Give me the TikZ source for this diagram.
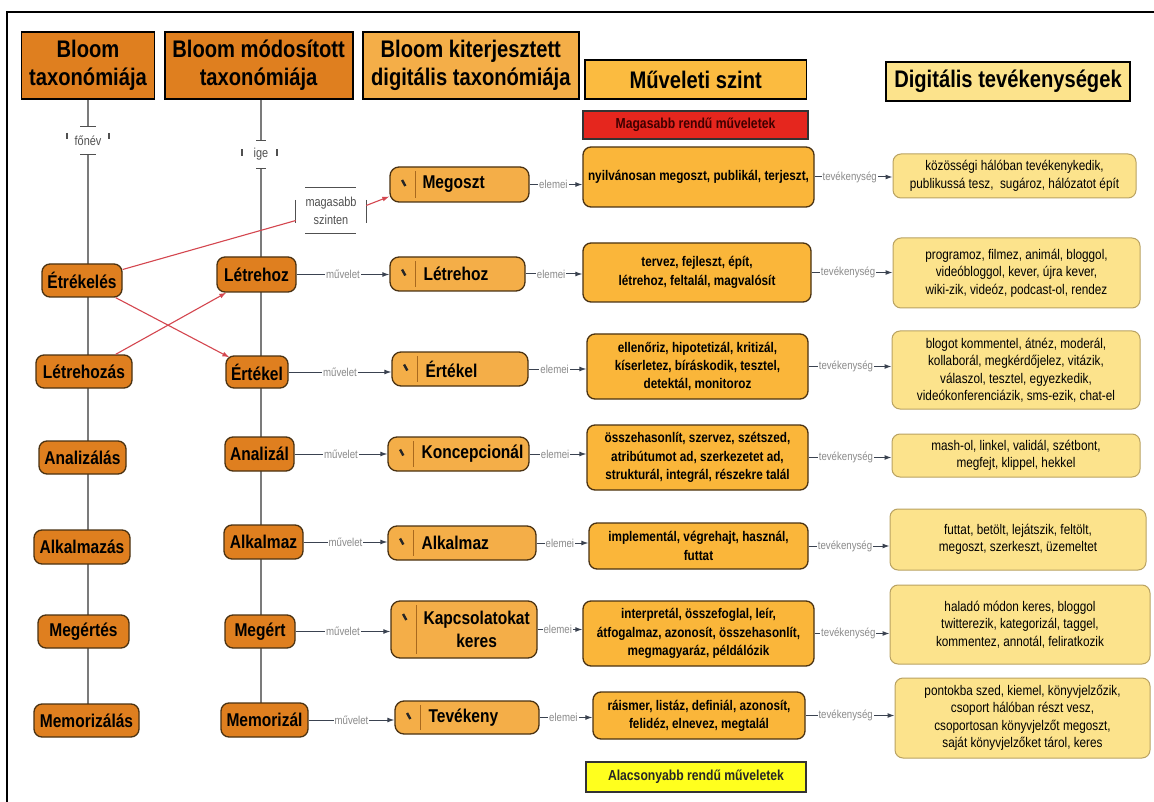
\documentclass[tikz,border=0pt]{standalone}
\usepackage{fontspec}
\setmainfont{Liberation Sans}[FakeStretch=0.84]
\usetikzlibrary{arrows.meta,backgrounds}
\definecolor{dor}{HTML}{DF7F1F}
\definecolor{lor}{HTML}{F4AE48}
\definecolor{gold}{HTML}{FAB63A}
\definecolor{hgold}{HTML}{FBBB40}
\definecolor{pale}{HTML}{FCE38C}
\definecolor{brd}{HTML}{4A3212}
\definecolor{pbrd}{HTML}{B9A262}
\definecolor{redbox}{HTML}{E5261E}
\definecolor{ybox}{HTML}{FFFF1E}
\definecolor{redl}{HTML}{D4464F}
\definecolor{lineg}{HTML}{7B7B7B}
\definecolor{arr}{HTML}{3A4250}
\definecolor{lbl}{HTML}{8A8A8A}
\definecolor{dlbl}{HTML}{505050}
\definecolor{kdivc}{HTML}{A8691E}
\tikzset{
  hdr/.style={draw=black, line width=1.8pt, align=center, inner sep=0pt,
    font=\fontsize{24}{28}\selectfont\bfseries},
  onode/.style={draw=brd, fill=dor, line width=1.3pt, rounded corners=8pt,
    inner sep=0pt, font=\fontsize{18.5}{20}\selectfont\bfseries},
  kbox/.style={draw=brd, fill=lor, line width=1.3pt, rounded corners=9pt, inner sep=0pt},
  ktext/.style={align=center, inner sep=0pt, anchor=west,
    font=\fontsize{18.5}{23}\selectfont\bfseries},
  kicon/.style={line width=2.4pt, draw=black!85},
  kdiv/.style={line width=1pt, draw=kdivc},
  opbox/.style={draw=brd, fill=gold, line width=1.3pt, rounded corners=8pt, inner sep=0pt,
    align=center, font=\fontsize{14}{18.3}\selectfont\bfseries},
  dbox/.style={draw=pbrd, fill=pale, line width=1pt, rounded corners=8pt, inner sep=0pt,
    align=center, font=\fontsize{14}{17.5}\selectfont},
  conn/.style={draw=arr, line width=1pt, -{Latex[length=7pt,width=5pt]}},
  elab/.style={fill=white, inner sep=1pt, text=lbl, font=\fontsize{11.5}{12}\selectfont},
  redarr/.style={draw=redl, line width=1.1pt, -{Latex[length=7pt,width=5pt]}},
  redln/.style={draw=redl, line width=1.1pt},
  colline/.style={draw=lineg, line width=1.2pt},
  tlab/.style={fill=white, inner sep=0pt, text=dlbl, align=center,
    font=\fontsize{13}{18}\selectfont},
  tick/.style={draw=dlbl, line width=1.1pt},
}
\newcommand\kdeco[3]{%
  \draw[kicon] ([xshift=12.7pt,yshift=#2]#1.west) -- ([xshift=16pt,yshift=#3]#1.west);
  \draw[kdiv] ([xshift=26pt,yshift=-5pt]#1.north west) -- ([xshift=26pt,yshift=5pt]#1.south west);}
\begin{document}
\begin{tikzpicture}[x=1pt,y=-1pt]
\useasboundingbox (0,0) rectangle (1154,802);

% headers
\node[hdr, fill=dor, minimum width=133pt, minimum height=67pt] (h1) at (88,65.5) {Bloom\\taxonómiája};
\node[hdr, fill=dor, minimum width=188pt, minimum height=67pt] (h2) at (258.6,65.5) {Bloom módosított\\taxonómiája};
\node[hdr, fill=lor, minimum width=216pt, minimum height=67pt] (h3) at (470.8,65.5) {Bloom kiterjesztett\\digitális taxonómiája};
\node[hdr, fill=hgold, minimum width=221.5pt, minimum height=39pt] (h4) at (695.7,79.5) {Műveleti szint};
\node[hdr, fill=pale, minimum width=244.5pt, minimum height=39pt] (h5) at (1008,81.5) {Digitális tevékenységek};

\node[draw=black!80, line width=1.6pt, fill=redbox, minimum width=225pt, minimum height=28pt, inner sep=0pt,
  text=black!75!red, font=\fontsize{14.5}{16}\selectfont\bfseries] (hi) at (695.5,125) {Magasabb rendű műveletek};
\node[draw=black!80, line width=1.6pt, fill=ybox, minimum width=220pt, minimum height=30pt, inner sep=0pt,
  text=black!85, font=\fontsize{14.5}{16}\selectfont\bfseries] (lo) at (696,777) {Alacsonyabb rendű műveletek};

% column 1
\node[onode, minimum width=80pt, minimum height=33pt] (e1) at (82,280.5) {Étrékelés};
\node[onode, minimum width=96pt, minimum height=33pt] (l1) at (84,371.5) {Létrehozás};
\node[onode, minimum width=87pt, minimum height=33pt] (a1) at (82.5,457.5) {Analizálás};
\node[onode, minimum width=96pt, minimum height=34pt] (al1) at (82,547) {Alkalmazás};
\node[onode, minimum width=91pt, minimum height=33pt] (mg1) at (83.5,631.5) {Megértés};
\node[onode, minimum width=105pt, minimum height=33pt] (mm1) at (86.5,720.5) {Memorizálás};

% column 2
\node[onode, minimum width=79pt, minimum height=35pt] (l2) at (256.5,274.5) {Létrehoz};
\node[onode, minimum width=62pt, minimum height=32pt] (v2) at (257,372) {Értékel};
\node[onode, minimum width=69pt, minimum height=34pt] (a2) at (259.5,454) {Analizál};
\node[onode, minimum width=79pt, minimum height=34pt] (al2) at (263.5,542) {Alkalmaz};
\node[onode, minimum width=70pt, minimum height=33pt] (mg2) at (260,631.5) {Megért};
\node[onode, minimum width=87pt, minimum height=34pt] (mm2) at (264.5,720) {Memorizál};

% labels on the column lines
\node[tlab, minimum width=30pt, minimum height=27pt] (fn) at (88,140.5) {főnév};
\node[tlab, minimum width=20pt, minimum height=27pt] (ig) at (261,154.5) {ige};
\node[tlab, minimum width=70pt, minimum height=45pt] (ms) at (331,210.5) {magasabb\\szinten};

\begin{scope}[on background layer]
  \fill[white] (0,0) rectangle (1154,802);
  \draw[colline] (h1.south) -- (h1.south |- mm1.center);
  \draw[colline] ([xshift=2.4pt]h2.south) -- ([xshift=2.4pt]h2.south |- mm2.center);
\end{scope}
\draw[line width=1.5pt] (7,802) -- (7,12) -- (1154,12);
\draw[tick] ([xshift=-8pt]fn.north) -- ([xshift=8pt]fn.north);
\draw[tick] ([xshift=-8pt]fn.south) -- ([xshift=8pt]fn.south);
\draw[tick] ([xshift=-21pt,yshift=7.5pt]fn.center) -- ([xshift=-21pt,yshift=1pt]fn.center);
\draw[tick] ([xshift=21pt,yshift=7.5pt]fn.center) -- ([xshift=21pt,yshift=1pt]fn.center);
\draw[tick] ([xshift=-5pt]ig.north) -- ([xshift=5pt]ig.north);
\draw[tick] ([xshift=-5pt]ig.south) -- ([xshift=5pt]ig.south);
\draw[tick] ([xshift=-19pt,yshift=5pt]ig.center) -- ([xshift=-19pt,yshift=-1.5pt]ig.center);
\draw[tick] ([xshift=16pt,yshift=5pt]ig.center) -- ([xshift=16pt,yshift=-1.5pt]ig.center);
\draw[tick] ([xshift=-26pt]ms.north) -- ([xshift=25pt]ms.north);
\draw[tick] ([xshift=-26pt]ms.south) -- ([xshift=25pt]ms.south);
\draw[tick] ([yshift=10.5pt]ms.west) -- ([yshift=-12.5pt]ms.west);
\draw[tick] ([yshift=10.5pt]ms.east) -- ([yshift=-12.5pt]ms.east);

% column 3
\node[kbox, minimum width=139pt, minimum height=35pt] (k1) at (459.5,184.5) {};
\node[kbox, minimum width=135pt, minimum height=34pt] (k2) at (457.5,274) {};
\node[kbox, minimum width=136pt, minimum height=34pt] (k3) at (460,369) {};
\node[kbox, minimum width=141pt, minimum height=34pt] (k4) at (458.5,454) {};
\node[kbox, minimum width=148pt, minimum height=34pt] (k5) at (462,543) {};
\node[kbox, minimum width=146pt, minimum height=57pt] (k6) at (464,629.5) {};
\node[kbox, minimum width=144pt, minimum height=33pt] (k7) at (467,717.5) {};
\node[ktext] (t1) at ([xshift=33pt]k1.west) {Megoszt};
\node[ktext] (t2) at ([xshift=34pt]k2.west) {Létrehoz};
\node[ktext] (t3) at ([xshift=34pt]k3.west) {Értékel};
\node[ktext] (t4) at ([xshift=34pt]k4.west) {Koncepcionál};
\node[ktext] (t5) at ([xshift=34pt]k5.west) {Alkalmaz};
\node[ktext] (t6) at ([xshift=33pt]k6.west) {Kapcsolatokat\\keres};
\node[ktext] (t7) at ([xshift=34pt]k7.west) {Tevékeny};
\kdeco{k1}{4.5pt}{-1.5pt}
\kdeco{k2}{4.5pt}{-1.5pt}
\kdeco{k3}{4.5pt}{-1.5pt}
\kdeco{k4}{4.5pt}{-1.5pt}
\kdeco{k5}{4.5pt}{-1.5pt}
\kdeco{k6}{15.5pt}{9.5pt}
\kdeco{k7}{4.5pt}{-1.5pt}

% column 4
\node[opbox, minimum width=231pt, minimum height=60pt] (o1) at (698.5,177) {nyilvánosan megoszt, publikál, terjeszt,};
\node[opbox, minimum width=228pt, minimum height=59pt] (o2) at (697,272.5) {tervez, fejleszt, épít,\\létrehoz, feltalál, magvalósít};
\node[opbox, minimum width=221pt, minimum height=65pt] (o3) at (697.5,366.5) {ellenőriz, hipotetizál, kritizál,\\kíserletez, bíráskodik, tesztel,\\detektál, monitoroz};
\node[opbox, minimum width=221pt, minimum height=65pt] (o4) at (697.5,457.5) {összehasonlít, szervez, szétszed,\\atribútumot ad, szerkezetet ad,\\strukturál, integrál, részekre talál};
\node[opbox, minimum width=219pt, minimum height=46pt] (o5) at (698.5,546) {implementál, végrehajt, használ,\\futtat};
\node[opbox, minimum width=231pt, minimum height=65pt] (o6) at (698.5,633.5) {interpretál, összefoglal, leír,\\átfogalmaz, azonosít, összehasonlít,\\megmagyaráz, példálózik};
\node[opbox, minimum width=212pt, minimum height=47pt] (o7) at (699,715.5) {ráismer, listáz, definiál, azonosít,\\felidéz, elnevez, megtalál};

% column 5
\node[dbox, minimum width=243pt, minimum height=44pt] (d1) at (1014.5,176) {közösségi hálóban tevékenykedik,\\publikussá tesz,\ \ sugároz, hálózatot épít};
\node[dbox, minimum width=247pt, minimum height=70pt] (d2) at (1016.5,273) {programoz, filmez, animál, bloggol,\\videóbloggol, kever, újra kever,\\wiki-zik, videóz, podcast-ol, rendez};
\node[dbox, minimum width=248pt, minimum height=78pt] (d3) at (1016,370) {blogot kommentel, átnéz, moderál,\\kollaborál, megkérdőjelez, vitázik,\\válaszol, tesztel, egyezkedik,\\videókonferenciázik, sms-ezik, chat-el};
\node[dbox, minimum width=248pt, minimum height=43pt] (d4) at (1016,455.5) {mash-ol, linkel, validál, szétbont,\\megfejt, klippel, hekkel};
\node[dbox, minimum width=256pt, minimum height=61pt] (d5) at (1018,539.5) {futtat, betölt, lejátszik, feltölt,\\megoszt, szerkeszt, üzemeltet};
\node[dbox, minimum width=260pt, minimum height=79pt] (d6) at (1020,624.5) {haladó módon keres, bloggol\\twitterezik, kategorizál, taggel,\\kommentez, annotál, feliratkozik};
\node[dbox, minimum width=255pt, minimum height=80pt] (d7) at (1022.5,718) {pontokba szed, kiemel, könyvjelzőzik,\\csoport hálóban részt vesz,\\csoportosan könyvjelzőt megoszt,\\saját könyvjelzőket tárol, keres};

% red connectors
\draw[redln] ([yshift=11pt]e1.east) -- ([yshift=-10pt]ms.west);
\draw[redarr] ([yshift=5pt]ms.east) -- ([yshift=-12pt]k1.west);
\draw[redarr] ([xshift=-7pt]e1.south east) -- ([xshift=4pt,yshift=-2pt]v2.north west);
\draw[redarr] ([xshift=-17pt]l1.north east) -- ([xshift=10pt]l2.south west);

% muvelet connectors
\foreach \a/\b in {l2/k2, v2/k3, a2/k4, al2/k5, mg2/k6, mm2/k7}{
  \draw[conn] (\a.east) -- node[elab]{művelet} (\a.east -| \b.west);
}
% elemei connectors
\foreach \a/\b in {k1/o1, k2/o2, k3/o3, k4/o4, k5/o5, k6/o6, k7/o7}{
  \draw[conn] (\a.east) -- node[elab, pos=0.45]{elemei} (\a.east -| \b.west);
}
% tevekenyseg connectors
\foreach \a/\b in {o1/d1, o2/d2, o3/d3, o4/d4, o5/d5, o6/d6, o7/d7}{
  \draw[conn] (\a.east) -- node[elab, pos=0.45]{tevékenység} (\a.east -| \b.west);
}
\end{tikzpicture}
\end{document}
